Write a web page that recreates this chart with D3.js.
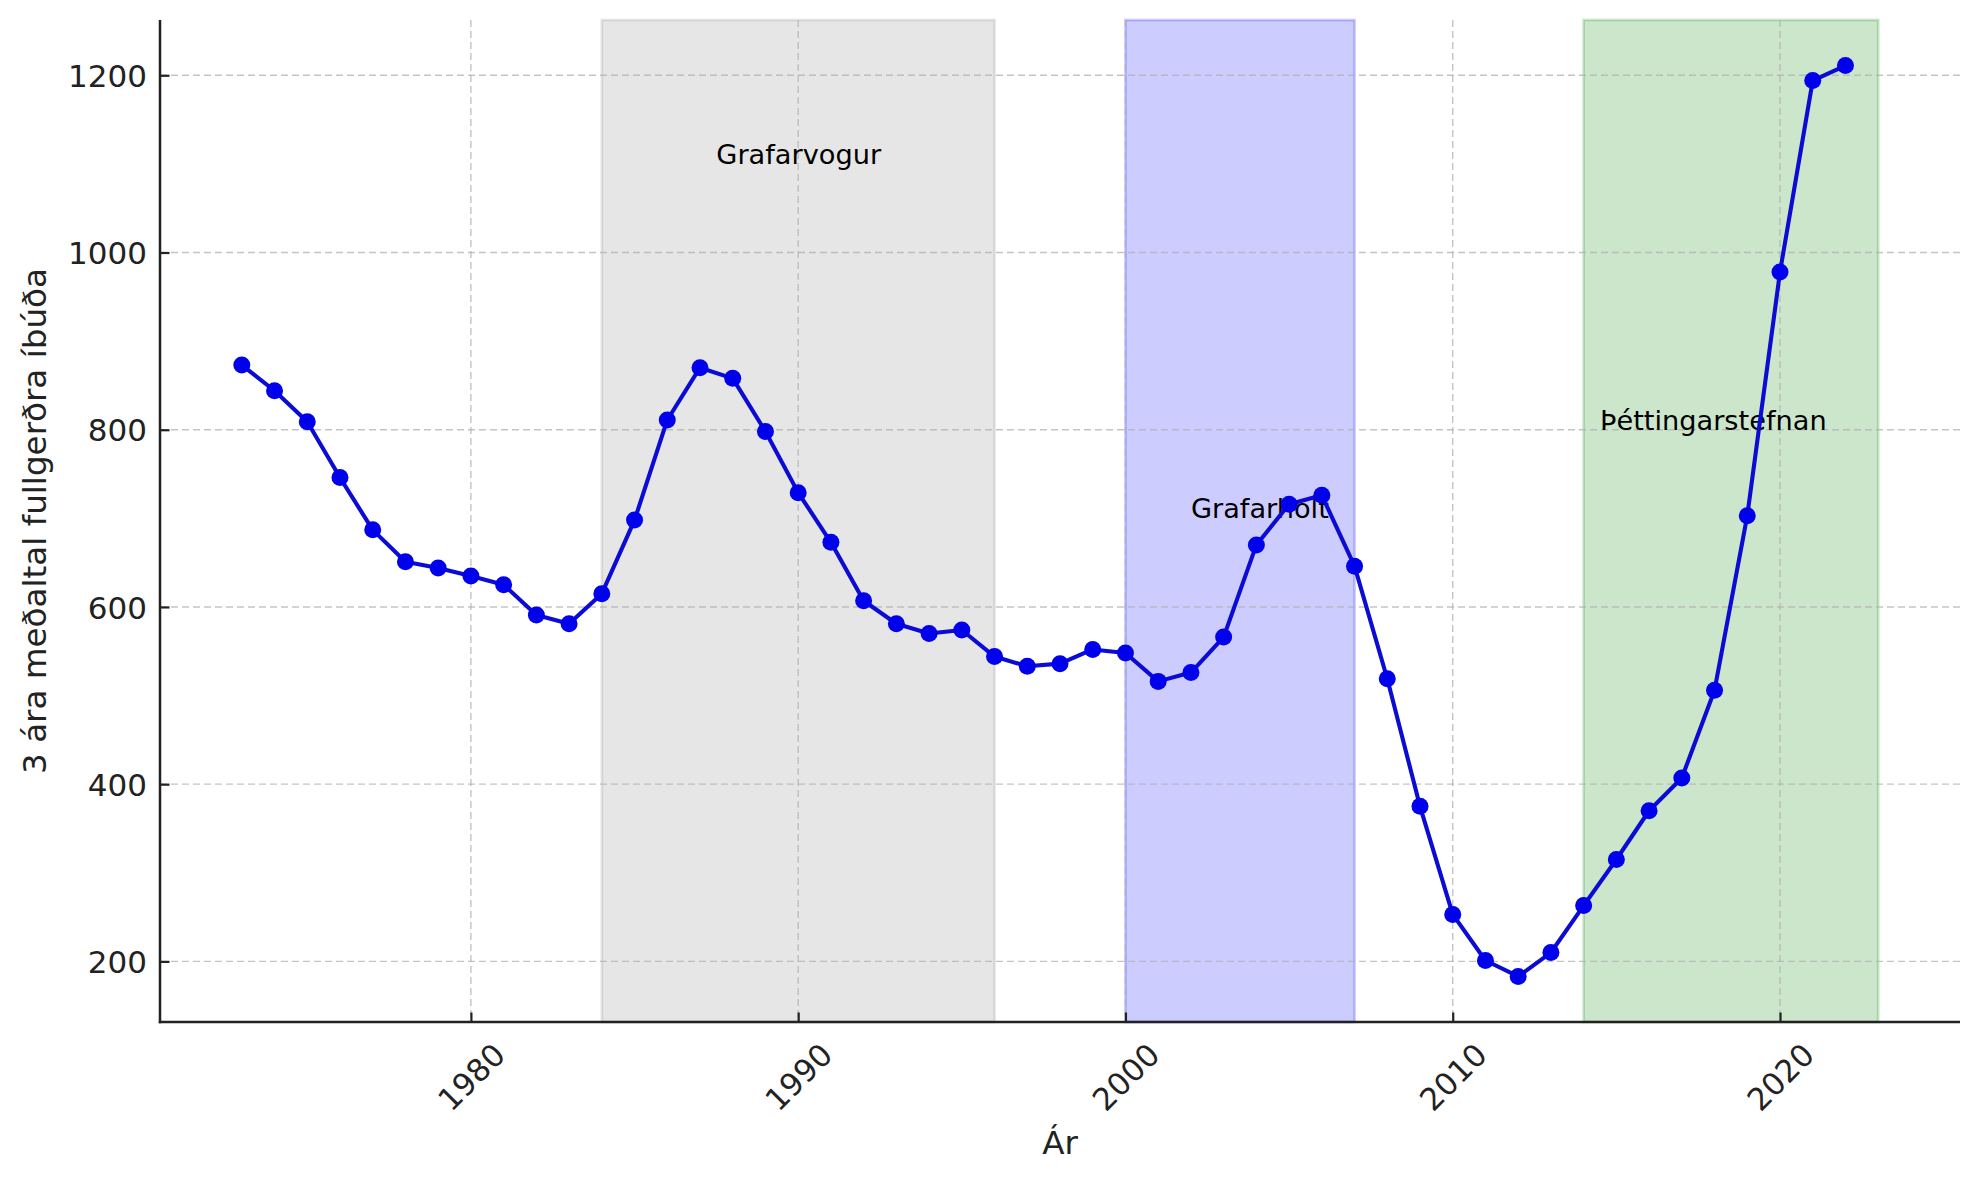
<!DOCTYPE html>
<html>
<head>
<meta charset="utf-8">
<script src="https://cdn.jsdelivr.net/npm/d3@7"></script>
<style>
  html, body { margin: 0; padding: 0; background: #fff; }
  svg { display: block; font-family: "DejaVu Sans", sans-serif; }
</style>
</head>
<body>
<svg id="chart" width="1979" height="1180"></svg>
<script>
// ---- data ----
const years = [1973,1974,1975,1976,1977,1978,1979,1980,1981,1982,1983,1984,1985,1986,1987,1988,1989,1990,1991,1992,1993,1994,1995,1996,1997,1998,1999,2000,2001,2002,2003,2004,2005,2006,2007,2008,2009,2010,2011,2012,2013,2014,2015,2016,2017,2018,2019,2020,2021,2022];
const values = [873,844,809,746,687,651,644,635,625,591,581,615,698,811,870,858,798,729,673,607,581,570,574,544,533,536,552,548,516,526,566,670,716,726,646,519,375,253,201,183,210,263,315,370,407,506,703,978,1194,1211];
const spanNames = ["Grafarvogur", "Grafarholt", "Þéttingarstefnan"];
const spanStart = [1984, 2000, 2014];
const spanEnd = [1996, 2007, 2023];
const spanColors = ["gray", "blue", "green"];
const labelX = [1987.5, 2002, 2014.5];
const labelY = [1100, 700, 800];
const xTicks = [1980, 1990, 2000, 2010, 2020];
const yTicks = [200, 400, 600, 800, 1000, 1200];
const xTitle = "Ár";
const yTitle = "3 ára meðaltal fullgerðra íbúða";

// ---- layout ----
const W = 1979, H = 1180;
const m = {left: 160, right: 1960, top: 20, bottom: 1022};
const svg = d3.select("#chart");

const xMin = d3.min(years), xMax = d3.max([d3.max(years), d3.max(spanEnd)]);
const xPad = (xMax - xMin) * 0.05;
const yMin = d3.min(values), yMax = d3.max(values);
const yPad = (yMax - yMin) * 0.05;

const x = d3.scaleLinear().domain([xMin - xPad, xMax + xPad]).range([m.left, m.right]);
const y = d3.scaleLinear().domain([yMin - yPad, yMax + yPad]).range([m.bottom, m.top]);

// spans
const spans = spanNames.map((n, i) => ({name: n, s: spanStart[i], e: spanEnd[i], c: spanColors[i], lx: labelX[i], ly: labelY[i]}));
svg.append("g").selectAll("rect").data(spans).join("rect")
  .attr("x", d => x(d.s)).attr("y", m.top)
  .attr("width", d => x(d.e) - x(d.s)).attr("height", m.bottom - m.top)
  .attr("fill", d => d.c).attr("fill-opacity", 0.2)
  .attr("stroke", d => d.c).attr("stroke-opacity", 0.2).attr("stroke-width", 2.7);

// grid
const grid = svg.append("g").attr("stroke", "#b0b0b0").attr("stroke-opacity", 0.75)
  .attr("stroke-width", 1.4).attr("stroke-dasharray", "7,4");
grid.selectAll("line.gx").data(xTicks).join("line").attr("class", "gx")
  .attr("x1", d => x(d)).attr("x2", d => x(d)).attr("y1", m.top).attr("y2", m.bottom);
grid.selectAll("line.gy").data(yTicks).join("line").attr("class", "gy")
  .attr("y1", d => y(d)).attr("y2", d => y(d)).attr("x1", m.left).attr("x2", m.right);

// annotations
svg.append("g").selectAll("text").data(spans).join("text")
  .attr("x", d => x(d.lx)).attr("y", d => y(d.ly))
  .attr("font-size", 27.2).attr("fill", "#000")
  .text(d => d.name);

// line + markers
const pts = years.map((yr, i) => ({yr, v: values[i]}));
svg.append("path").datum(pts)
  .attr("fill", "none").attr("stroke", "#0b0bd4").attr("stroke-width", 4.1)
  .attr("stroke-linejoin", "round")
  .attr("d", d3.line().x(d => x(d.yr)).y(d => y(d.v)));
svg.append("g").selectAll("circle").data(pts).join("circle")
  .attr("cx", d => x(d.yr)).attr("cy", d => y(d.v)).attr("r", 8.5)
  .attr("fill", "#0000ec");

// axes
const xAxis = svg.append("g").attr("transform", `translate(0,${m.bottom})`)
  .call(d3.axisBottom(x).tickValues(xTicks).tickSize(-9.5).tickFormat(d3.format("d")));
const yAxis = svg.append("g").attr("transform", `translate(${m.left},0)`)
  .call(d3.axisLeft(y).tickValues(yTicks).tickSize(-9.5).tickFormat(d3.format("d")));
[xAxis, yAxis].forEach(a => {
  a.select(".domain").remove();
  a.selectAll(".tick line").attr("stroke", "#222").attr("stroke-width", 2.2);
  a.selectAll("text").attr("font-family", "DejaVu Sans").attr("font-size", 31).attr("fill", "#222");
});
xAxis.selectAll(".tick text")
  .attr("y", 0).attr("dy", null)
  .attr("text-anchor", "middle").attr("dominant-baseline", "central")
  .attr("transform", "translate(0,55) rotate(-45)");
yAxis.selectAll(".tick text").attr("x", -13).attr("dy", "0.36em");

// spines
svg.append("line").attr("x1", m.left).attr("x2", m.left).attr("y1", m.top).attr("y2", m.bottom + 1.2)
  .attr("stroke", "#222").attr("stroke-width", 2.5);
svg.append("line").attr("x1", m.left - 1.2).attr("x2", m.right).attr("y1", m.bottom).attr("y2", m.bottom)
  .attr("stroke", "#222").attr("stroke-width", 2.5);

// axis titles
svg.append("text").attr("x", (m.left + m.right) / 2).attr("y", 1154)
  .attr("text-anchor", "middle").attr("font-size", 32.6).attr("fill", "#222").text(xTitle);
svg.append("text").attr("transform", `translate(46,${(m.top + m.bottom) / 2}) rotate(-90)`)
  .attr("text-anchor", "middle").attr("font-size", 32.6).attr("fill", "#222").text(yTitle);
</script>
</body>
</html>
